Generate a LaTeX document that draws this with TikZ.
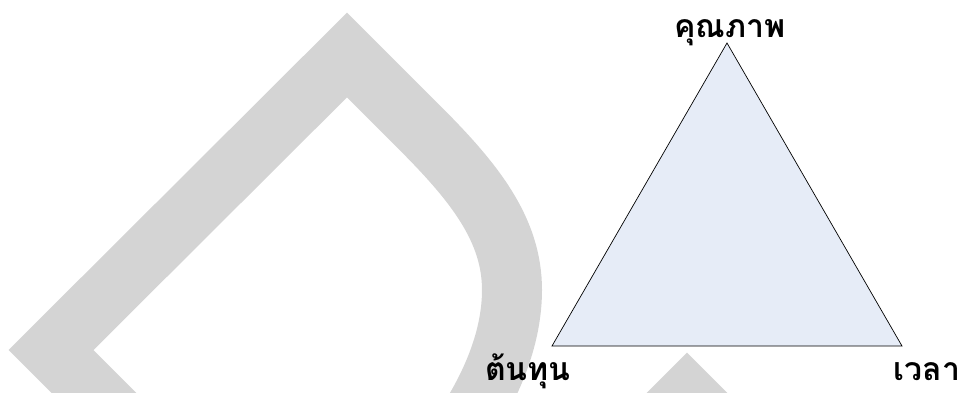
\documentclass[tikz,border=0pt]{standalone}
\usepackage{fontspec}
\newfontfamily\thaifont[Script=Thai]{Loma}
\definecolor{cshade}{gray}{0.83}
\definecolor{cfill}{HTML}{E6ECF7}

\begin{document}
\begin{tikzpicture}[x=1pt, y=1pt,
  band/.style={draw=cshade, line width=60pt, line join=miter, miter limit=10},
  tri/.style={draw=black, fill=cfill, line width=0.7pt, line join=miter},
  lbl/.style={font=\thaifont\bfseries\fontsize{32}{36}\selectfont, inner sep=0pt, anchor=base}
]
\useasboundingbox (0,0) rectangle (962,392);
\clip (0,0) rectangle (962,392);
% grey bands behind
\draw[band] (120,-27) -- (51,42) -- (347,337) -- (420,264)
  .. controls (475,209) and (512,162) .. (512,102)
  .. controls (512,42) and (480,-18) .. (440,-68);
\draw[band] (627,-63) -- (687,-3) -- (747,-63);
% triangle
\coordinate (top) at (727,349);
\coordinate (left) at (552,46);
\coordinate (right) at (902,46);
\draw[tri] (top) -- (right) -- (left) -- cycle;
\node[lbl] (quality) at (730,355) {คุณภาพ};
\node[lbl] (cost) at (528,12) {ต้นทุน};
\node[lbl] (time) at (927,12) {เวลา};
\end{tikzpicture}
\end{document}
